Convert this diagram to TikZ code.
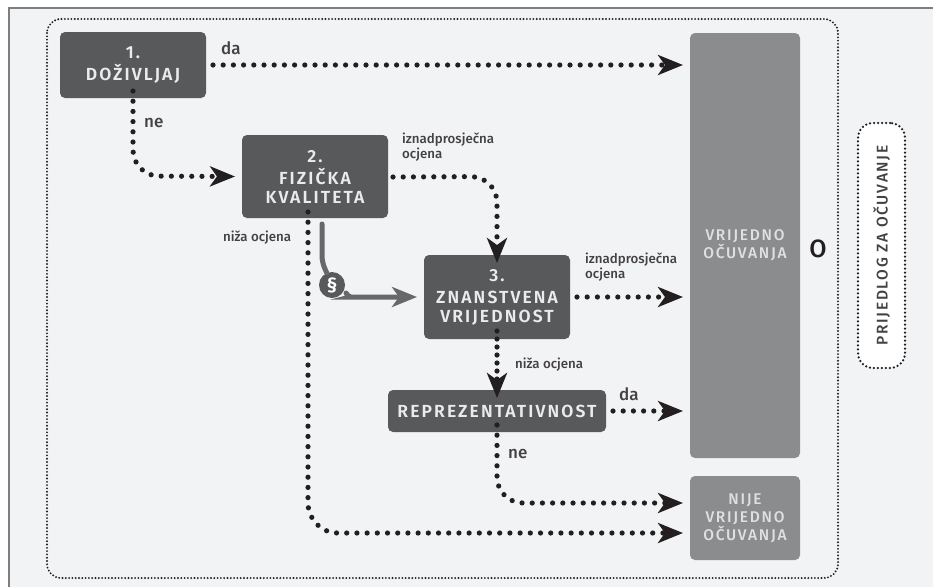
\documentclass[tikz,border=0pt]{standalone}
\usepackage{fontspec}
\setmainfont{Fira Sans}
\newfontfamily\spaced[LetterSpace=12]{Fira Sans SemiBold}
\newfontfamily\spacedb[LetterSpace=11]{Fira Sans Medium}
\newfontfamily\medfont{Fira Sans Medium}
\usetikzlibrary{arrows.meta}
\definecolor{panel}{HTML}{F2F3F4}
\definecolor{darkbox}{HTML}{58595B}
\definecolor{lightbox}{HTML}{8A8C8E}
\definecolor{greyarrow}{HTML}{67686A}
\definecolor{ink}{HTML}{231F20}
\tikzset{
  x=1pt,y=-1pt,
  box/.style={fill=darkbox,rounded corners=5pt,text=white!92!black,align=center,inner sep=0pt,outer sep=0pt,font=\spaced\fontsize{17.5}{19}\selectfont},
  gbox/.style={fill=lightbox,rounded corners=5pt,text=white!88!black,align=center,inner sep=0pt,outer sep=0pt,font=\spacedb\fontsize{15.5}{18}\selectfont},
  dotline/.style={draw=ink,line width=5.2pt,line cap=round,dash pattern=on 0pt off 10.2pt,rounded corners=26pt,-{Stealth[length=25pt,width=20pt,inset=7pt,ink]}},
  solidline/.style={draw=greyarrow,line width=5pt,line cap=round,rounded corners=6pt},
  lab/.style={text=ink!85!white,align=left,inner sep=0pt,anchor=west},
  smalllab/.style={lab,font=\medfont\fontsize{13.3}{15.5}\selectfont},
  biglab/.style={lab,font=\medfont\fontsize{17}{18}\selectfont},
}
\begin{document}
\begin{tikzpicture}
\useasboundingbox (0,0) rectangle (933,587);
\fill[panel] (9,8) rectangle (933,587);
\draw[lightbox!90!black,line width=1.6pt] (9,587) -- (9,8) -- (933,8);
\draw[ink,line width=2.1pt,line cap=round,dash pattern=on 0pt off 3.3pt,rounded corners=14pt] (47,19) rectangle (838,578);
\node[fill=white,draw=ink,line width=2.5pt,line cap=round,dash pattern=on 0pt off 4pt,rounded corners=15pt,minimum width=47pt,minimum height=245pt,inner sep=0pt] (pill) at (881.5,245.5) {};
\node[rotate=90,text=ink!85!white,font=\spacedb\fontsize{15.5}{15}\selectfont] (pilltxt) at (pill.center) {PRIJEDLOG ZA OČUVANJE};
\node[box,minimum width=146pt,minimum height=66pt] (b1) at (133,65) {1.\\[3pt]DOŽIVLJAJ};
\node[box,minimum width=146pt,minimum height=83pt] (b2) at (315,176.5) {2.\\[3pt]FIZIČKA\\KVALITETA};
\node[box,minimum width=146pt,minimum height=84pt] (b3) at (497,297) {3.\\[3pt]ZNANSTVENA\\VRIJEDNOST};
\node[box,minimum width=218pt,minimum height=42pt] (b4) at (497,411) {REPREZENTATIVNOST};
\node[gbox,minimum width=110pt,minimum height=425pt] (v) at (745,245.5) {VRIJEDNO\\OČUVANJA};
\node[gbox,minimum width=110pt,minimum height=84pt] (n) at (745,518) {NIJE\\VRIJEDNO\\OČUVANJA};
\node[text=ink,inner sep=0pt,font=\medfont\fontsize{25}{25}\selectfont] (o) at (818,249) {O};
\node[circle,fill=darkbox,minimum size=26pt,inner sep=0pt,text=white,font=\spaced\fontsize{20}{20}\selectfont] (par) at (332,285) {§};
% free ends
\coordinate (e1) at (v.west |- b1);
\coordinate (e3) at (v.west |- b3);
\coordinate (e4) at (v.west |- b4);
\coordinate (e5) at (n.west |- 0,503);
\coordinate (e6) at (n.west |- 0,533);
\def\gap{7}
\draw[dotline] ([xshift=\gap]b1.east) -- ([xshift=-7]e1);
\draw[dotline] ([yshift=\gap]b1.south) -- (133,176) -- ([xshift=-7]b2.west);
\draw[dotline] ([xshift=5,yshift=-0.5]b2.east) -- (b3.north |- b2.east) -- ([yshift=-8]b3.north);
\draw[dotline] ([xshift=\gap]b3.east) -- ([xshift=-7]e3);
\draw[dotline,dash pattern=on 0pt off 8pt] ([yshift=8]b3.south) -- ([yshift=-8]b4.north);
\draw[dotline] ([xshift=\gap]b4.east) -- ([xshift=-7]e4);
\draw[dotline] ([yshift=7]b4.south) -- (497,503) -- ([xshift=-7]e5);
\draw[dotline,rounded corners=30pt] ([xshift=-7,yshift=6]b2.south) -- (308,533) -- ([xshift=-7]e6);
\draw[solidline] (322,224) -- (322,262) -- (par);
\draw[solidline,-{Stealth[length=25pt,width=20pt,inset=7pt,greyarrow]}] (346,293) to[out=-60,in=180] (356,297) -- ([xshift=-7]b3.west);
\node[biglab] (l1) at (221,48) {da};
\node[biglab] (l2) at (144,122.5) {ne};
\node[smalllab] (l3) at (402,147) {iznadprosječna\\ocjena};
\node[smalllab] (l4) at (223,238) {niža ocjena};
\node[smalllab] (l5) at (585,267) {iznadprosječna\\ocjena};
\node[smalllab] (l6) at (515,365) {niža ocjena};
\node[biglab] (l7) at (619,394) {da};
\node[biglab] (l8) at (508,454) {ne};
\end{tikzpicture}
\end{document}
